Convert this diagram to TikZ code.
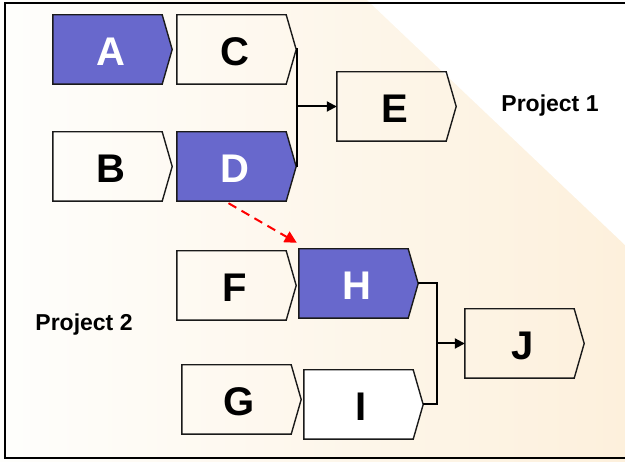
\documentclass[tikz,border=0pt]{standalone}
\usepackage{fontspec}
\setmainfont{Liberation Sans}
\usetikzlibrary{arrows.meta}

\definecolor{taskblue}{HTML}{6868CC}
\definecolor{paleleft}{HTML}{FEFEFC}
\definecolor{palemid}{HTML}{FEFAF0}
\definecolor{paleright}{HTML}{FDF0DC}
\definecolor{outline}{HTML}{1A1A1A}

\tikzset{
  taskframe/.style={rectangle, draw=none, inner sep=0pt,
    minimum width=119pt, minimum height=69pt},
  taskline/.style={draw=outline, line width=1.4pt, line join=miter},
  tasklabel/.style={inner sep=0pt, font=\fontsize{40}{40}\selectfont\bfseries},
  projlabel/.style={inner sep=0pt, font=\fontsize{23}{24}\selectfont\bfseries},
  conn/.style={draw=black, line width=2pt},
  depend/.style={draw=red, line width=2pt, dash pattern=on 9pt off 6pt,
    -{Triangle[length=12pt,width=12pt]}},
}

% name, centre, fill, text colour, letter
\newcommand\taskbox[5]{%
  \node[taskframe] (#1) at (#2) {};
  \draw[taskline, fill=#3] (#1.north west) -- ([xshift=-10pt]#1.north east)
     -- (#1.east) -- ([xshift=-10pt]#1.south east) -- (#1.south west) -- cycle;
  \node[tasklabel, text=#4] (#1-text) at ([shift={(-2pt,-2pt)}]#1.center) {#5};
}

\begin{document}
\begin{tikzpicture}[x=1pt, y=-1pt]
  \useasboundingbox (0,0) rectangle (625,462);
  % background wash and frame
  \shade[left color=paleleft, middle color=palemid, right color=paleright]
    (0,0) rectangle (625,462);
  \fill[white] (367,0) -- (625,0) -- (625,245) -- cycle;
  \draw[line width=2pt] (4.5,3) rectangle (640,458);

  % project 1
  \taskbox{A}{112.5,49.5}{taskblue}{white}{A}
  \taskbox{C}{236.5,49.5}{none}{black}{C}
  \taskbox{B}{112.5,166.5}{none}{black}{B}
  \taskbox{D}{236.5,166.5}{taskblue}{white}{D}
  \taskbox{E}{396.5,106.5}{none}{black}{E}

  % project 2
  \taskbox{F}{236.5,285.5}{none}{black}{F}
  \taskbox{H}{358.5,283.5}{taskblue}{white}{H}
  \taskbox{G}{241.5,399.5}{none}{black}{G}
  \taskbox{I}{363.5,404.5}{white}{black}{I}
  \taskbox{J}{524.5,343.5}{none}{black}{J}

  \node[projlabel] (p1) at (550,106) {Project 1};
  \node[projlabel] (p2) at (84,325) {Project 2};

  % merges
  \coordinate (j1) at (297,106.5);
  \coordinate (j2) at (437,343.5);
  \draw[conn] (C.east) -| (j1) |- (D.east);
  \draw[conn, -{Triangle[length=10pt,width=10pt]}] (j1) -- (E.west);
  \draw[conn] (H.east) -| (j2) |- (I.east);
  \draw[conn, -{Triangle[length=10pt,width=10pt]}] (j2) -- (J.west);

  % cross-project dependency
  \draw[depend] ([shift={(-8pt,-2pt)}]D.south) -- ([shift={(-2pt,6pt)}]H.north west);
\end{tikzpicture}
\end{document}
